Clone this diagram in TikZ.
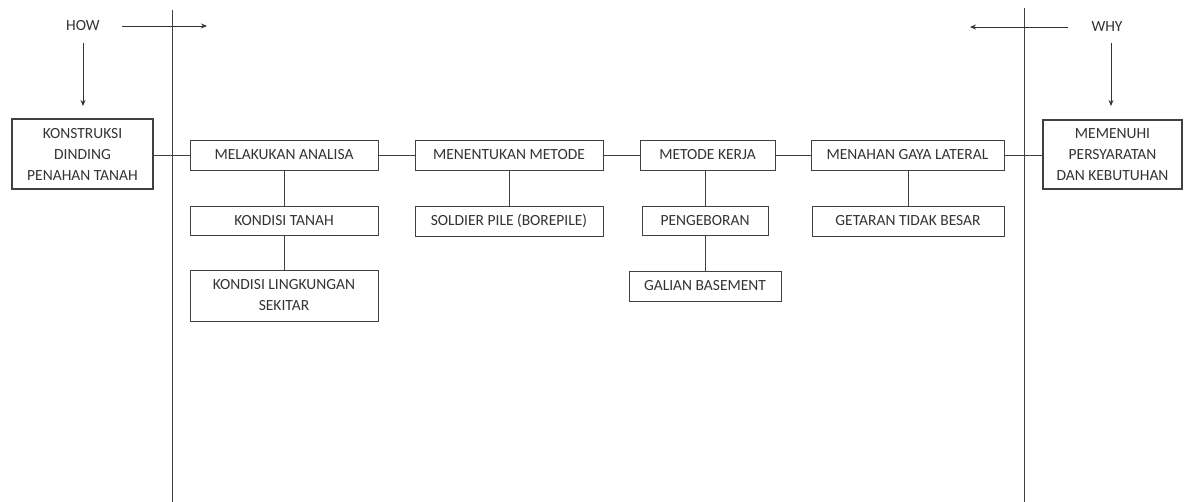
\documentclass[tikz,border=0pt]{standalone}
\usepackage{fontspec}
\setmainfont{Carlito}
\usetikzlibrary{arrows.meta}
\begin{document}
\begin{tikzpicture}[x=1pt,y=-1pt,
  box/.style={draw=black!75,line width=0.9pt,inner sep=1pt,align=center,text=black!80,font=\fontsize{15.5}{21}\selectfont},
  bigbox/.style={box,line width=2.6pt},
  link/.style={draw=black!75,line width=0.9pt},
  arr/.style={draw=black!80,line width=0.9pt,-{Stealth[length=6pt,width=5pt]}},
  lbl/.style={text=black!80,font=\fontsize{15.5}{21}\selectfont}]
\useasboundingbox (0,0) rectangle (1184,502);
% vertical divider lines
\coordinate (lt) at (172,10); \coordinate (lb) at (172,502);
\coordinate (rt) at (1024,8); \coordinate (rb) at (1024,502);
\draw[link] (lt) -- (lb);
\draw[link] (rt) -- (rb);
% HOW / WHY
\node[lbl] (how) at (83,26) {HOW};
\node[lbl] (why) at (1107,27) {WHY};
\coordinate (h1) at (122,26); \coordinate (h2) at (207,26);
\coordinate (w1) at (1068,27); \coordinate (w2) at (970,27);
\coordinate (hv1) at (83,43); \coordinate (hv2) at (83,106);
\coordinate (wv1) at (1111,43); \coordinate (wv2) at (1111,106);
\draw[arr] (h1) -- (h2);
\draw[arr] (w1) -- (w2);
\draw[arr] (hv1) -- (hv2);
\draw[arr] (wv1) -- (wv2);
% boxes
\node[bigbox,minimum width=141pt,minimum height=70pt] (kon) at (82.5,154) {KONSTRUKSI\\DINDING\\PENAHAN TANAH};
\node[bigbox,minimum width=139pt,minimum height=69pt] (mem) at (1112.5,154.5) {MEMENUHI\\PERSYARATAN\\DAN KEBUTUHAN};
\node[box,minimum width=188pt,minimum height=30pt] (mel) at (284,155) {MELAKUKAN ANALISA};
\node[box,minimum width=188pt,minimum height=30pt] (men) at (509,155) {MENENTUKAN METODE};
\node[box,minimum width=135pt,minimum height=30pt] (mk) at (707.5,155) {METODE KERJA};
\node[box,minimum width=193pt,minimum height=30pt] (mgl) at (907.5,155) {MENAHAN GAYA LATERAL};
\node[box,minimum width=188pt,minimum height=29pt] (kt) at (284,220.5) {KONDISI TANAH};
\node[box,minimum width=188pt,minimum height=51pt] (klk) at (284,295.5) {KONDISI LINGKUNGAN\\SEKITAR};
\node[box,minimum width=188pt,minimum height=30pt] (sp) at (509,221) {SOLDIER PILE (BOREPILE)};
\node[box,minimum width=126pt,minimum height=29pt] (pg) at (705,220.5) {PENGEBORAN};
\node[box,minimum width=152pt,minimum height=30pt] (gb) at (705,286) {GALIAN BASEMENT};
\node[box,minimum width=192pt,minimum height=30pt] (gtb) at (908,221) {GETARAN TIDAK BESAR};
% horizontal links
\draw[link] (kon.east |- mel.west) -- (mel.west);
\draw[link] (mel.east) -- (men.west);
\draw[link] (men.east) -- (mk.west);
\draw[link] (mk.east) -- (mgl.west);
\draw[link] (mgl.east) -- (mem.west |- mgl.east);
% vertical links
\draw[link] (kt.north) -- (kt.north |- mel.south);
\draw[link] (klk.north) -- (kt.south);
\draw[link] (sp.north) -- (men.south);
\draw[link] (pg.north) -- (pg.north |- mk.south);
\draw[link] (gb.north) -- (pg.south);
\draw[link] (gtb.north) -- (gtb.north |- mgl.south);
\end{tikzpicture}
\end{document}
